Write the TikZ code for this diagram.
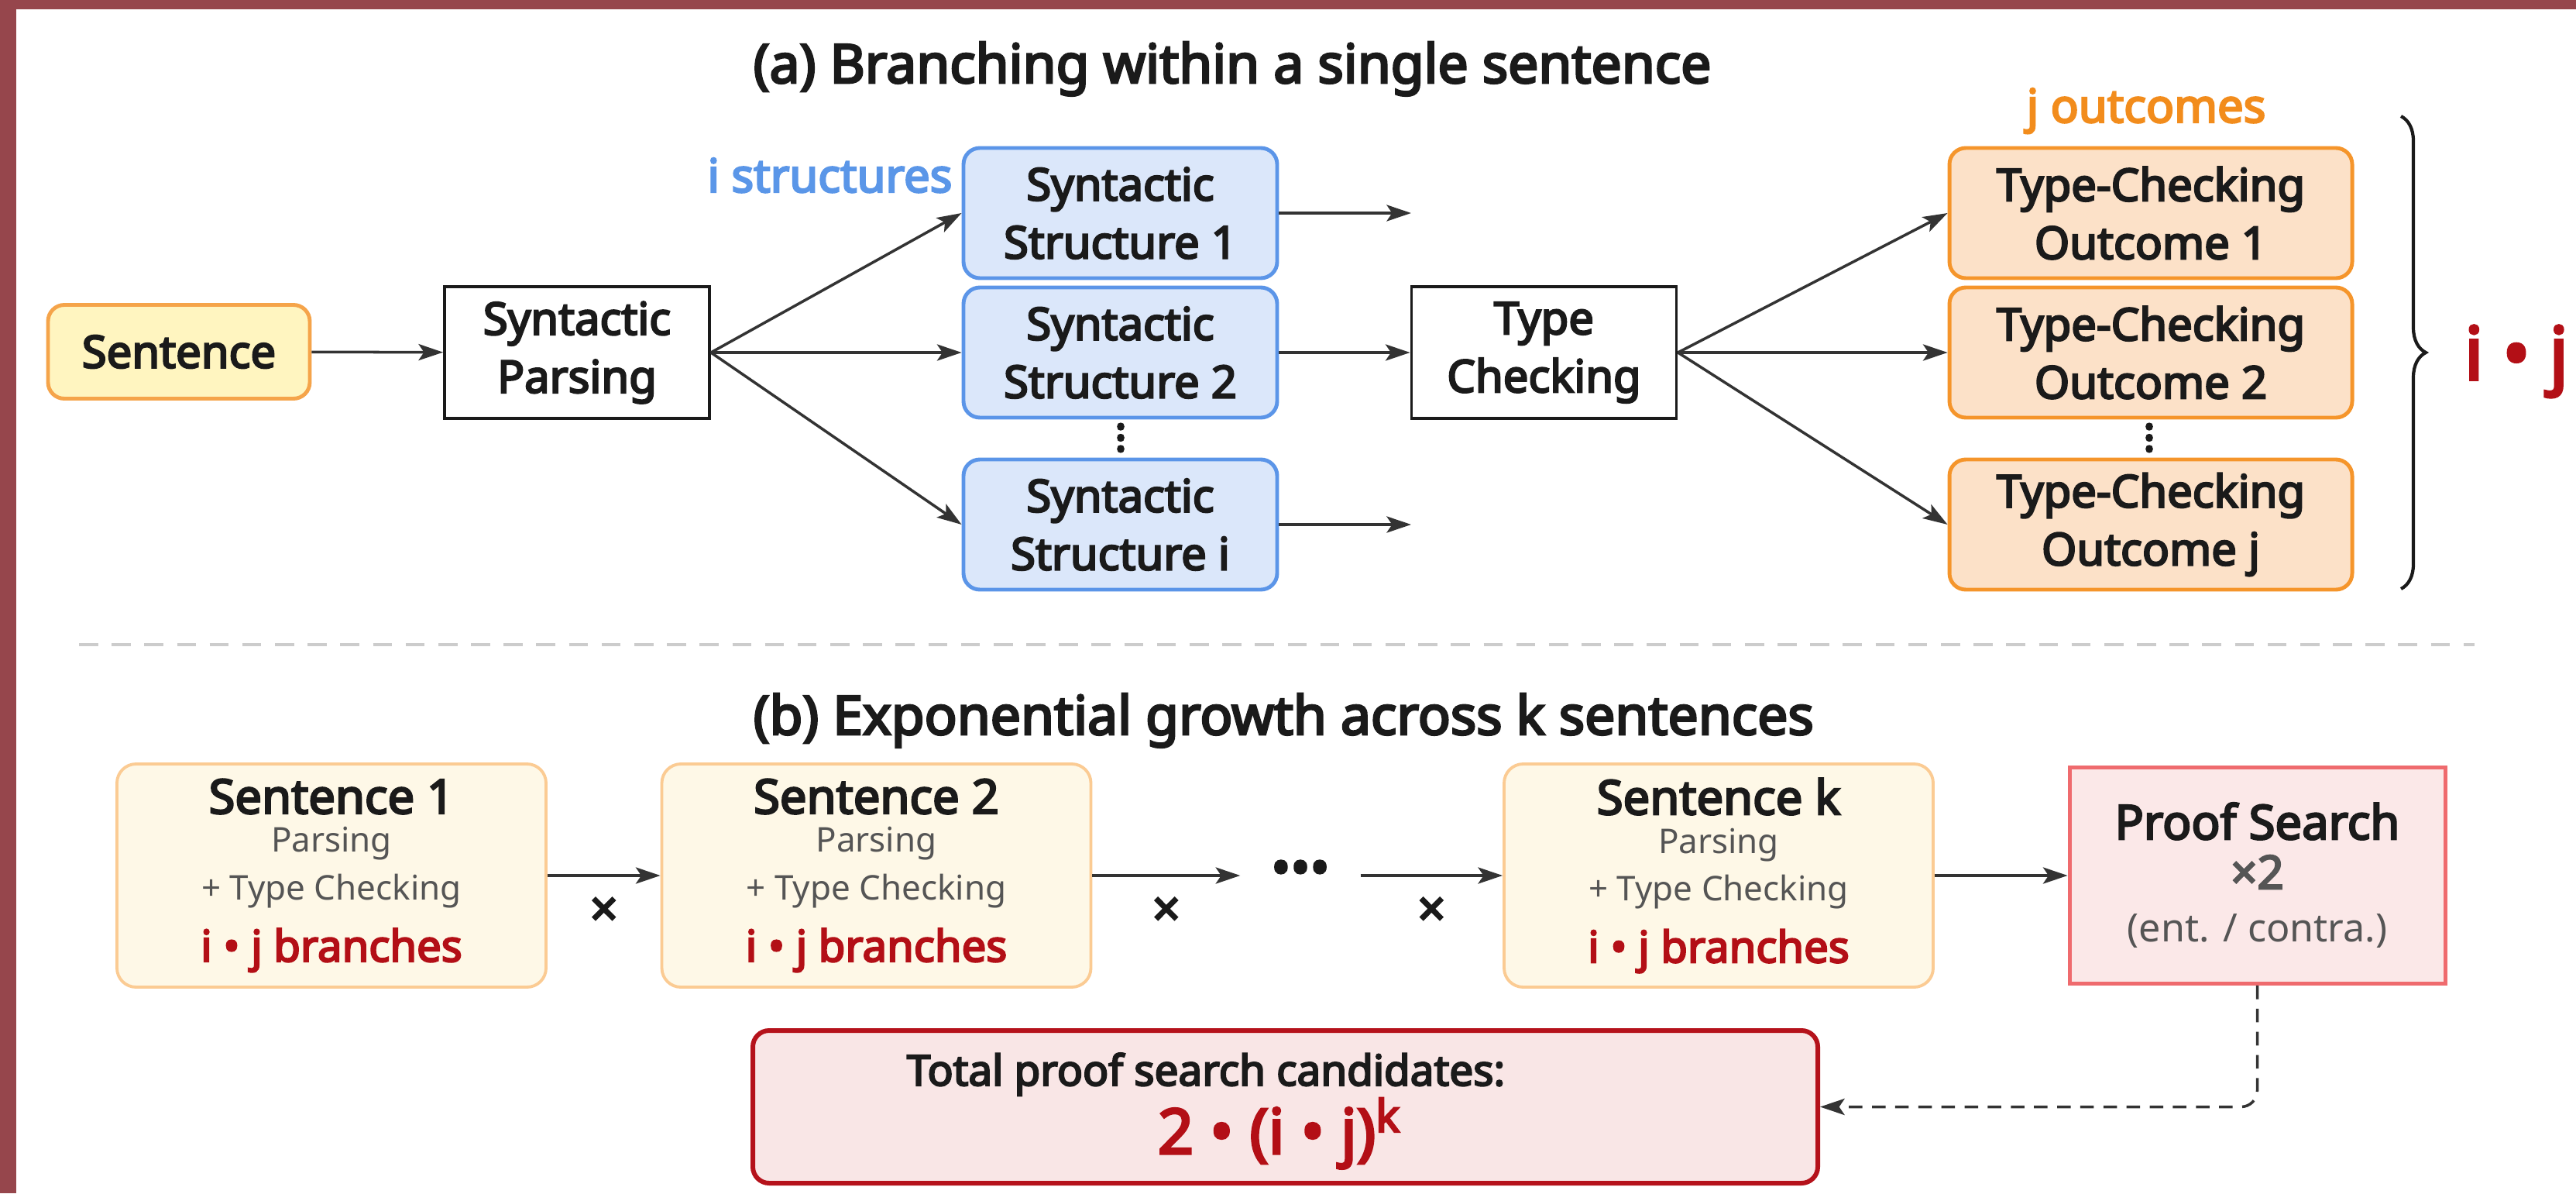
\documentclass[tikz,border=0pt]{standalone}
\usepackage{fontspec}
\setmainfont{Noto Sans}[BoldFont={Noto Sans}, BoldFeatures={FakeBold=4}]
\usepackage{tikz}
\usepackage{xcolor}
\usetikzlibrary{arrows.meta, decorations.pathreplacing}

\newcommand{\stackdots}{\vbox{\baselineskip=4.1pt\lineskiplimit=-5pt\hbox{.}\hbox{.}\hbox{.}}}

\definecolor{framered}{HTML}{96464C}
\definecolor{sentfill}{HTML}{FFF5C0}
\definecolor{sentdraw}{HTML}{F5A44A}
\definecolor{structfill}{HTML}{DBE7FA}
\definecolor{structdraw}{HTML}{5B95E8}
\definecolor{outfill}{HTML}{FCE1C8}
\definecolor{outdraw}{HTML}{F5952B}
\definecolor{stepfill}{HTML}{FEF8E7}
\definecolor{stepdraw}{HTML}{FBCB93}
\definecolor{prooffill}{HTML}{FBE8E8}
\definecolor{proofdraw}{HTML}{EF6B6E}
\definecolor{totalfill}{HTML}{F9E6E6}
\definecolor{totaldraw}{HTML}{B5121B}
\definecolor{ijred}{HTML}{B30F16}
\definecolor{labelblue}{HTML}{5A96E8}
\definecolor{labelorange}{HTML}{F28C1C}
\definecolor{arrowgray}{HTML}{333333}
\definecolor{subgray}{HTML}{555555}
\definecolor{sepgray}{HTML}{CCCCCC}
\definecolor{inkblack}{HTML}{1A1A1A}

\begin{document}
\begin{tikzpicture}[>={Stealth[length=9pt,width=6pt,inset=2pt]},
    arr/.style={->, draw=arrowgray, line width=1pt},
    box/.style={align=center, text=inkblack, inner sep=0pt,
        font=\fontsize{16.5}{21.3}\selectfont\bfseries},
    sentbox/.style={box, rounded corners=6pt, fill=sentfill, draw=sentdraw,
        line width=1.4pt, minimum width=3.38cm, minimum height=1.21cm},
    stagebox/.style={box, draw=inkblack, fill=white, line width=1.1pt,
        minimum width=3.42cm, minimum height=1.70cm},
    structbox/.style={box, rounded corners=6pt, fill=structfill, draw=structdraw,
        line width=1.4pt, minimum width=4.05cm, minimum height=1.68cm},
    outbox/.style={box, rounded corners=6pt, fill=outfill, draw=outdraw,
        line width=1.4pt, minimum width=5.20cm, minimum height=1.68cm},
    stepbox/.style={align=center, text=inkblack, inner sep=0pt, rounded corners=7pt,
        fill=stepfill, draw=stepdraw, line width=1.1pt,
        minimum width=5.54cm, minimum height=2.88cm,
        font=\fontsize{12.5}{14.2}\selectfont},
    proofbox/.style={align=center, text=inkblack, inner sep=0pt,
        fill=prooffill, draw=proofdraw, line width=1.4pt,
        minimum width=4.85cm, minimum height=2.79cm,
        font=\fontsize{14.3}{14.2}\selectfont},
    totalbox/.style={rounded corners=6pt, fill=totalfill, draw=totaldraw,
        line width=1.7pt, minimum width=13.75cm, minimum height=1.97cm},
    title/.style={anchor=base west, text=inkblack, inner sep=0pt,
        font=\fontsize{19.8}{19.8}\selectfont\bfseries},
    tag/.style={inner sep=0pt, font=\fontsize{17}{17}\selectfont\bfseries},
    vdotsmark/.style={text=inkblack, inner sep=0pt, font=\fontsize{16.5}{16.5}\selectfont\bfseries},
    crossmark/.style={text=inkblack, inner sep=0pt, font=\fontsize{18}{18}\selectfont\bfseries}]

    % canvas and frame
    \useasboundingbox (0,0) rectangle (33.26,15.40);
    \fill[white] (0,0) rectangle (33.26,15.40);
    \fill[framered] (0,0) rectangle (0.21,15.40);
    \fill[framered] (0,15.28) rectangle (33.26,15.40);

    % (a) one sentence
    \node[title] (titleA) at (9.72,14.33) {(a) Branching within a single sentence};
    \node[sentbox] (sent) at (2.31,10.86) {Sentence};
    \node[stagebox] (parse) at (7.45,10.85) {Syntactic\\Parsing};
    \node[structbox] (st1) at (14.465,12.65) {Syntactic\\Structure 1};
    \node[structbox] (st2) at (14.465,10.85) {Syntactic\\Structure 2};
    \node[structbox] (sti) at (14.465,8.63) {Syntactic\\Structure i};
    \node[stagebox] (tc) at (19.935,10.85) {Type\\Checking};
    \node[outbox] (out1) at (27.77,12.65) {Type-Checking\\Outcome 1};
    \node[outbox] (out2) at (27.77,10.85) {Type-Checking\\Outcome 2};
    \node[outbox] (outj) at (27.77,8.63) {Type-Checking\\Outcome j};

    \node[tag, text=labelblue, anchor=base east] (ilabel) at (12.30,12.92) {i structures};
    \node[tag, text=labelorange, anchor=base] (jlabel) at (27.71,13.82) {j outcomes};
    \node[vdotsmark] (vdA) at (14.47,9.75) {\stackdots};
    \node[vdotsmark] (vdB) at (27.75,9.75) {\stackdots};

    \coordinate (st1end) at (18.22,12.65);
    \coordinate (stiend) at (18.22,8.63);

    \draw[arr] (sent) -- (parse);
    \foreach \s in {st1,st2,sti}
        \draw[arr] (parse.east) -- (\s.west);
    \draw[arr] (st1) -- (st1end);
    \draw[arr] (st2) -- (tc);
    \draw[arr] (sti) -- (stiend);
    \foreach \o in {out1,out2,outj}
        \draw[arr] (tc.east) -- (\o.west);

    % brace over the outcomes
    \draw[inkblack, line width=1.2pt, decorate, decoration={brace, amplitude=0.32cm}]
        (31.00,13.90) -- (31.00,7.80);
    \node[anchor=base, text=ijred, font=\fontsize{27}{27}\selectfont\bfseries] (ij) at (32.49,10.50) {i • j};

    % separator
    \draw[sepgray, line width=0.9pt, dash pattern=on 7pt off 5pt] (1.02,7.08) -- (31.95,7.08);

    % (b) k sentences
    \node[title] (titleB) at (9.72,5.92) {(b) Exponential growth across k sentences};
    \foreach \n/\x in {1/4.28, 2/11.315, k/22.19}
        \node[stepbox] (s\n) at (\x,4.10) {%
            {\fontsize{17.5}{17.5}\selectfont\bfseries Sentence \n}\\
            {\color{subgray}Parsing}\\[3.2pt]
            {\color{subgray}+ Type Checking}\\[6.6pt]
            {\fontsize{16}{16}\selectfont\bfseries\color{ijred}i • j branches}};
    \node[proofbox] (proof) at (29.145,4.10) {%
        {\fontsize{17.5}{17.5}\selectfont\bfseries Proof Search}\\[4pt]
        {\fontsize{17}{17}\selectfont\bfseries\color{subgray}×2}\\[5.4pt]
        {\color{subgray}(ent. / contra.)}};
    \node[text=inkblack, inner sep=0pt, minimum width=1.54cm, text height=0.76em,
        font=\fontsize{19}{19}\selectfont\bfseries] (dots) at (16.79,4.10) {•••};

    \draw[arr] (s1) -- (s2) node[crossmark, midway, yshift=-0.47cm] (x1) {×};
    \draw[arr] (s2) -- (dots) node[crossmark, midway, yshift=-0.47cm] (x2) {×};
    \draw[arr] (dots) -- (sk) node[crossmark, midway, yshift=-0.47cm] (x3) {×};
    \draw[arr] (sk) -- (proof);

    % total count
    \node[totalbox] (total) at (16.595,1.115) {};
    \node[anchor=base, text=inkblack, font=\fontsize{15.6}{15.6}\selectfont\bfseries] (totalcap) at (15.57,1.39) {Total proof search candidates:};
    \node[anchor=base, text=ijred, font=\fontsize{23}{23}\selectfont\bfseries] (formula) at (16.51,0.51)
        {2 • (i • j)\raisebox{8pt}{\fontsize{16.5}{16.5}\selectfont k}};
    \draw[arr, dash pattern=on 5pt off 3.5pt, rounded corners=6pt] (proof.south) |- (total.east);
\end{tikzpicture}
\end{document}
